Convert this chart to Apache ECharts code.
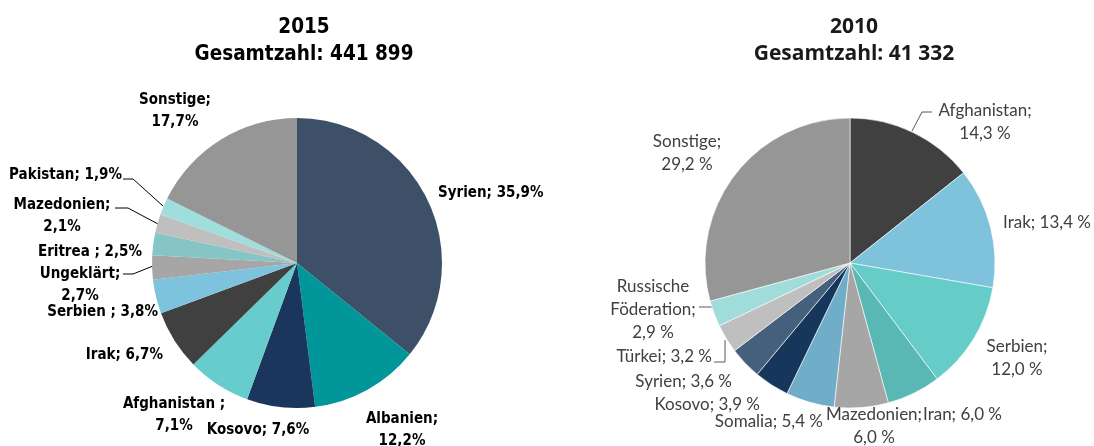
<!DOCTYPE html>
<html><head><meta charset="utf-8">
<script src="https://cdn.jsdelivr.net/npm/echarts@6/dist/echarts.min.js"></script>
<style>html,body{margin:0;padding:0;background:#fff}#c{width:1094px;height:446px}</style>
</head><body><div id="c"></div>
<script>
// ---- Data ----
const names2015 = ['Syrien','Albanien','Kosovo','Afghanistan','Irak','Serbien','Ungeklärt','Eritrea','Mazedonien','Pakistan','Sonstige'];
const values2015 = [35.9, 12.2, 7.6, 7.1, 6.7, 3.8, 2.7, 2.5, 2.1, 1.9, 17.7];
const names2010 = ['Afghanistan','Irak','Serbien','Iran','Mazedonien','Somalia','Kosovo','Syrien','Türkei','Russische\nFöderation','Sonstige'];
const values2010 = [14.3, 13.4, 12.0, 6.0, 6.0, 5.4, 3.9, 3.6, 3.2, 2.9, 29.2];
const title2015 = ['2015', 'Gesamtzahl: 441 899'];
const title2010 = ['2010', 'Gesamtzahl: 41 332'];

// ---- Styles ----
const colors2015 = ['#3D5068','#00969A','#1B365D','#66CCCC','#404040','#7EC3DD','#A6A6A6','#86C5C5','#BFBFBF','#A0DEDB','#969696'];
const colors2010 = ['#404040','#7FC2DC','#66CCC8','#5AB8B4','#A6A6A6','#6FADC8','#17365C','#44607C','#BFBFBF','#A0DCD9','#969696'];
const sep2015 = ['; ',';\n',  '; ',' ;\n','; ',' ; ',';\n',' ; ',';\n','; ',';\n'];
const sep2010 = [';\n','; ',';\n','; ',';\n','; ','; ','; ','; ',';\n',';\n'];
// label anchor [x, y, align] and optional leader line
const lab2015 = [
  [438,193,'left'],[402,430,'center'],[258,430,'center'],[174,415,'center'],[163,355,'right'],
  [158,312,'right'],[80,285,'center',[[123,274],[133,274],[153,266]]],[142,252,'right'],
  [62,216,'center',[[115,208],[128,208],[158,224]]],[122,175,'right',[[123,179],[133,179],[163,206]]],[175,111,'center']
];
const lab2010 = [
  [985,122,'center',[[932,112],[922,112],[912,131]]],[1003,223,'left'],[1017,358,'center'],[923,415,'left'],[874,426,'center'],
  [823,422,'right'],[760,405,'right'],[732,382,'right'],[712,357,'right',[[714,362],[725,362],[725,340]]],
  [653,310,'center',[[699,307],[713,307],[713,305]]],[687,153,'center']
];
const fmt = v => v.toFixed(1).replace('.', ',');

const boldFont = "'Liberation Sans Narrow','DejaVu Sans Condensed',sans-serif";
const regFont = "Lato,'Open Sans',sans-serif";

function mkSeries(names, values, colors, seps, labs, center, bold, unit, border) {
  return {
    type: 'pie',
    center: center,
    radius: 145,
    startAngle: 90,
    clockwise: true,
    animation: false,
    data: names.map((n, i) => ({ name: n, value: values[i], itemStyle: { color: colors[i] } })),
    itemStyle: { borderColor: '#fff', borderWidth: border },
    label: {
      show: true,
      position: 'outside',
      formatter: p => p.name + seps[p.dataIndex] + fmt(p.value) + unit,
      color: bold ? '#000' : '#404040',
      fontFamily: bold ? boldFont : regFont,
      fontWeight: bold ? 'bold' : 'normal',
      fontSize: bold ? 15 : 17,
      lineHeight: bold ? 22 : 23
    },
    labelLine: { show: true, lineStyle: { color: bold ? '#000' : '#595959', width: 1 }, length: 0, length2: 0 },
    emphasis: { disabled: true },
    labelLayout: function (params) {
      const l = labs[params.dataIndex];
      const o = { x: l[0], y: l[1], align: l[2], verticalAlign: 'middle' };
      if (l[3]) o.labelLinePoints = l[3]; else o.labelLinePoints = [[0,0],[0,0],[0,0]];
      return o;
    }
  };
}

const chart = echarts.init(document.getElementById('c'));
chart.setOption({
  backgroundColor: '#fff',
  title: [
    { text: title2015.join('\n'), left: 299, top: 9, textAlign: 'center',
      textStyle: { fontFamily: "'Liberation Sans Narrow','DejaVu Sans Condensed',sans-serif", fontWeight: 'bold', fontSize: 20.5, lineHeight: 27, color: '#000' } },
    { text: title2010.join('\n'), left: 849, top: 9, textAlign: 'center',
      textStyle: { fontFamily: "'Open Sans',sans-serif", fontWeight: 'bold', fontSize: 21, lineHeight: 27, color: '#1a1a1a' } }
  ],
  series: [
    mkSeries(names2015, values2015, colors2015, sep2015, lab2015, [297, 263], true, '%', 0),
    mkSeries(names2010, values2010, colors2010, sep2010, lab2010, [850, 263], false, ' %', 0.6)
  ]
});
</script></body></html>
